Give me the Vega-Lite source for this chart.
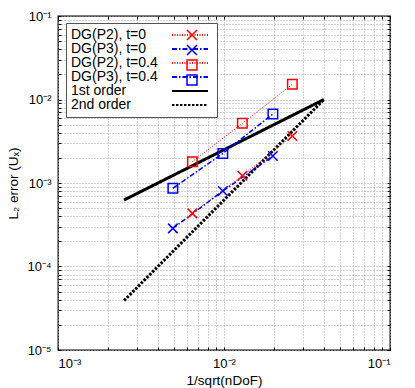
{
  "$schema": "https://vega.github.io/schema/vega-lite/v6.json",
  "width": 332,
  "height": 334,
  "autosize": {"type": "none"},
  "padding": {"left": 58, "top": 16, "right": 25, "bottom": 38},
  "background": "white",
  "config": {
    "view": {"stroke": "black", "strokeWidth": 1.3},
    "font": "Liberation Sans",
    "axis": {
      "domain": false,
      "labelFont": "Liberation Sans",
      "labelFontSize": 13,
      "labelColor": "black",
      "titleFont": "Liberation Sans",
      "titleFontSize": 13.5,
      "titleFontWeight": "normal",
      "titleColor": "black",
      "ticks": true,
      "tickSize": -3,
      "tickColor": "black",
      "tickWidth": 1,
      "gridColor": "#a8a8a8",
      "gridDash": [1, 2],
      "gridWidth": 1,
      "labelOverlap": false
    }
  },
  "data": {
    "values": [
      {"series": "DG(P2), t=0", "x": 0.00645, "y": 0.000433},
      {"series": "DG(P2), t=0", "x": 0.0129, "y": 0.00122},
      {"series": "DG(P2), t=0", "x": 0.0258, "y": 0.00366},
      {"series": "DG(P3), t=0", "x": 0.00492, "y": 0.000286},
      {"series": "DG(P3), t=0", "x": 0.00984, "y": 0.000802},
      {"series": "DG(P3), t=0", "x": 0.0197, "y": 0.00211},
      {"series": "DG(P2), t=0.4", "x": 0.00645, "y": 0.0018},
      {"series": "DG(P2), t=0.4", "x": 0.0129, "y": 0.00518},
      {"series": "DG(P2), t=0.4", "x": 0.0258, "y": 0.0152},
      {"series": "DG(P3), t=0.4", "x": 0.00492, "y": 0.000863},
      {"series": "DG(P3), t=0.4", "x": 0.00984, "y": 0.00226},
      {"series": "DG(P3), t=0.4", "x": 0.0197, "y": 0.0067},
      {"series": "1st order", "x": 0.0025, "y": 0.000625},
      {"series": "1st order", "x": 0.04, "y": 0.01},
      {"series": "2nd order", "x": 0.0025, "y": 0.0000391},
      {"series": "2nd order", "x": 0.04, "y": 0.01}
    ]
  },
  "layer": [
    {
      "transform": [{"filter": "indexof(datum.series, 'order') >= 0"}],
      "mark": {"type": "line", "strokeWidth": 3, "strokeCap": "butt"},
      "encoding": {
        "x": {
          "field": "x", "type": "quantitative",
          "scale": {"type": "log", "domain": [0.001, 0.1], "nice": false},
          "axis": {
            "orient": "bottom",
            "title": "1/sqrt(nDoF)",
            "titlePadding": 3,
            "values": [0.001,0.002,0.003,0.004,0.005,0.006,0.007,0.008,0.009,0.01,0.02,0.03,0.04,0.05,0.06,0.07,0.08,0.09,0.1],
            "labelExpr": "abs(log(datum.value)/LN10 - round(log(datum.value)/LN10)) < 0.01 ? '10' + ['⁻⁵','⁻⁴','⁻³','⁻²','⁻¹'][round(log(datum.value)/LN10) + 5] : ''",
            "labelPadding": 10,
            "grid": true
          }
        },
        "y": {
          "field": "y", "type": "quantitative",
          "scale": {"type": "log", "domain": [0.00001, 0.1], "nice": false},
          "axis": {
            "orient": "left",
            "title": "L₂ error (Uₓ)",
            "titlePadding": 6,
            "values": [0.00001,0.00002,0.00003,0.00004,0.00005,0.00006,0.00007,0.00008,0.00009,0.0001,0.0002,0.0003,0.0004,0.0005,0.0006,0.0007,0.0008,0.0009,0.001,0.002,0.003,0.004,0.005,0.006,0.007,0.008,0.009,0.01,0.02,0.03,0.04,0.05,0.06,0.07,0.08,0.09,0.1],
            "labelExpr": "abs(log(datum.value)/LN10 - round(log(datum.value)/LN10)) < 0.01 ? '10' + ['⁻⁵','⁻⁴','⁻³','⁻²','⁻¹'][round(log(datum.value)/LN10) + 5] : ''",
            "labelPadding": 10,
            "grid": true
          }
        },
        "color": {
          "field": "series", "type": "nominal",
          "scale": {
            "domain": ["DG(P2), t=0", "DG(P3), t=0", "DG(P2), t=0.4", "DG(P3), t=0.4", "1st order", "2nd order"],
            "range": ["#ff0000", "#0000ff", "#ff0000", "#0000ff", "#000000", "#000000"]
          },
          "legend": {
            "orient": "none",
            "legendX": 8,
            "legendY": 7,
            "title": null,
            "fillColor": "white",
            "strokeColor": "#555555",
            "padding": 5,
            "rowPadding": -1.8,
            "symbolType": "M-3.6,0L3.6,0",
            "symbolSize": 100,
            "symbolStrokeWidth": 2,
            "labelFont": "Liberation Sans",
            "labelFontSize": 14,
            "labelColor": "black",
            "labelLimit": 200,
            "encode": {
              "symbols": {
                "update": {
                  "x": {"value": 119},
                  "fill": {"value": "transparent"},
                  "strokeDash": {"scale": "strokeDash", "field": "value"}
                }
              },
              "labels": {"update": {"x": {"value": 0}}}
            }
          }
        },
        "strokeDash": {
          "field": "series", "type": "nominal",
          "scale": {
            "domain": ["DG(P2), t=0", "DG(P3), t=0", "DG(P2), t=0.4", "DG(P3), t=0.4", "1st order", "2nd order"],
            "range": [[1, 1.5], [5, 2, 1.5, 2], [1, 1.5], [5, 2, 1.5, 2], [1, 0], [2.5, 1.5]]
          },
          "legend": null
        }
      }
    },
    {
      "transform": [{"filter": "indexof(datum.series, 'P2') >= 0"}],
      "mark": {"type": "line", "strokeWidth": 1},
      "encoding": {
        "x": {"field": "x", "type": "quantitative", "axis": null},
        "y": {"field": "y", "type": "quantitative", "axis": null},
        "color": {"field": "series", "type": "nominal", "legend": null},
        "strokeDash": {"field": "series", "type": "nominal", "legend": null}
      }
    },
    {
      "transform": [{"filter": "indexof(datum.series, 'P3') >= 0"}],
      "mark": {"type": "line", "strokeWidth": 1.5},
      "encoding": {
        "x": {"field": "x", "type": "quantitative", "axis": null},
        "y": {"field": "y", "type": "quantitative", "axis": null},
        "color": {"field": "series", "type": "nominal", "legend": null},
        "strokeDash": {"field": "series", "type": "nominal", "legend": null}
      }
    },
    {
      "transform": [{"filter": "indexof(datum.series, 'order') < 0"}],
      "mark": {"type": "point", "filled": false, "size": 90, "strokeWidth": 1.5, "opacity": 1},
      "encoding": {
        "x": {
          "field": "x", "type": "quantitative",
          "axis": {
            "orient": "top", "title": null, "labels": false, "grid": false,
            "values": [0.001,0.002,0.003,0.004,0.005,0.006,0.007,0.008,0.009,0.01,0.02,0.03,0.04,0.05,0.06,0.07,0.08,0.09,0.1]
          }
        },
        "y": {
          "field": "y", "type": "quantitative",
          "axis": {
            "orient": "right", "title": null, "labels": false, "grid": false,
            "values": [0.00001,0.00002,0.00003,0.00004,0.00005,0.00006,0.00007,0.00008,0.00009,0.0001,0.0002,0.0003,0.0004,0.0005,0.0006,0.0007,0.0008,0.0009,0.001,0.002,0.003,0.004,0.005,0.006,0.007,0.008,0.009,0.01,0.02,0.03,0.04,0.05,0.06,0.07,0.08,0.09,0.1]
          }
        },
        "stroke": {
          "field": "series", "type": "nominal",
          "scale": {
            "domain": ["DG(P2), t=0", "DG(P3), t=0", "DG(P2), t=0.4", "DG(P3), t=0.4"],
            "range": ["#ff0000", "#0000ff", "#ff0000", "#0000ff"]
          },
          "legend": {
            "orient": "none",
            "legendX": 8,
            "legendY": 7,
            "title": null,
            "padding": 5,
            "rowPadding": -1.8,
            "symbolSize": 100,
            "symbolStrokeWidth": 1.5,
            "symbolOffset": 114,
            "labelFont": "Liberation Sans",
            "labelFontSize": 14,
            "labelOpacity": 0,
            "labelLimit": 200
          }
        },
        "shape": {
          "field": "series", "type": "nominal",
          "scale": {
            "domain": ["DG(P2), t=0", "DG(P3), t=0", "DG(P2), t=0.4", "DG(P3), t=0.4"],
            "range": ["M-1,-1L1,1M-1,1L1,-1", "M-1,-1L1,1M-1,1L1,-1", "square", "square"]
          },
          "legend": {
            "orient": "none",
            "legendX": 8,
            "legendY": 7,
            "title": null,
            "padding": 5,
            "rowPadding": -1.8,
            "symbolSize": 100,
            "symbolStrokeWidth": 1.5,
            "symbolOffset": 114,
            "labelFont": "Liberation Sans",
            "labelFontSize": 14,
            "labelOpacity": 0,
            "labelLimit": 200
          }
        }
      }
    }
  ]
}
